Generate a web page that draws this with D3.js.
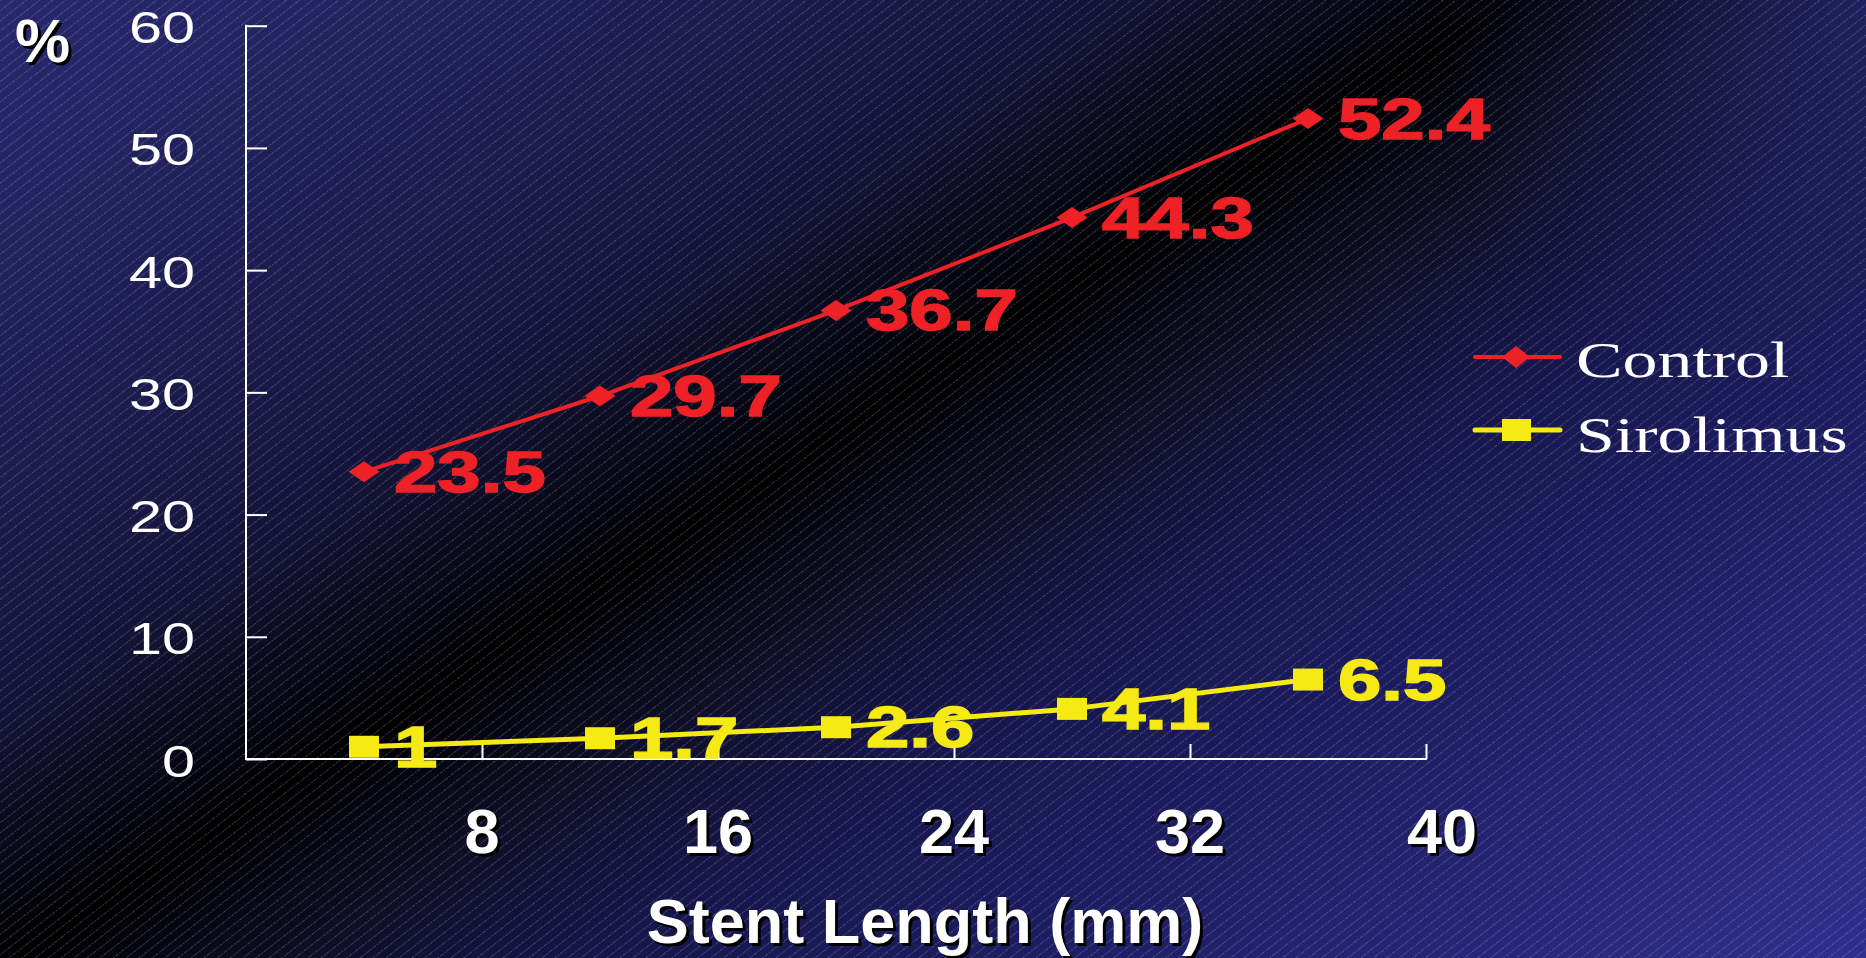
<!DOCTYPE html>
<html>
<head>
<meta charset="utf-8">
<script src="https://cdn.jsdelivr.net/npm/d3@7"></script>
<style>
  html, body { margin: 0; padding: 0; background: #000; overflow: hidden; }
  svg { display: block; }
</style>
</head>
<body>
<svg id="chart" width="1866" height="958"></svg>
<script>
// Restenosis rate by stent length bin (bin midpoints, mm)
const binCenters = [4, 12, 20, 28, 36];
const controlRates = [23.5, 29.7, 36.7, 44.3, 52.4];
const sirolimusRates = [1, 1.7, 2.6, 4.1, 6.5];
const lengthTicks = [8, 16, 24, 32, 40];
const percentTicks = [0, 10, 20, 30, 40, 50, 60];
const seriesNames = ["Control", "Sirolimus"];

const W = 1866, H = 958;
const plot = { left: 246, right: 1426, top: 25.7, bottom: 759 };
const SX = 1.38;               // horizontal stretch of the chart object text
const RED = "#ee2127", YELLOW = "#f5ea14";
const sansFont = "'Liberation Sans', Arial, Helvetica, sans-serif";
const serifFont = "'Liberation Serif', 'Times New Roman', serif";

const svg = d3.select("#chart");
const defs = svg.append("defs");

// Background: diagonal navy-black-blue gradient with fine slanted pinstripes
const grad = defs.append("linearGradient")
  .attr("id", "bg").attr("gradientUnits", "userSpaceOnUse")
  .attr("x1", 0).attr("y1", 0).attr("x2", 977).attr("y2", 1526);
[[0, "#28296e"], [0.2, "#1d1d52"], [0.33, "#141438"], [0.45, "#000000"],
 [0.53, "#0e0e24"], [0.62, "#16164a"], [0.72, "#1b1b5c"], [1, "#2e2f8c"]]
  .forEach(([o, c]) => grad.append("stop").attr("offset", o).attr("stop-color", c));

// soft navy glow in the upper-right corner
const glow = defs.append("radialGradient")
  .attr("id", "glow").attr("gradientUnits", "userSpaceOnUse")
  .attr("cx", 1866).attr("cy", 0).attr("r", 430);
glow.append("stop").attr("offset", 0).attr("stop-color", "#24246a").attr("stop-opacity", 0.8);
glow.append("stop").attr("offset", 1).attr("stop-color", "#1e1e58").attr("stop-opacity", 0);

const pat = defs.append("pattern")
  .attr("id", "stripes").attr("patternUnits", "userSpaceOnUse")
  .attr("width", 8).attr("height", 8)
  .attr("patternTransform", "rotate(52)");
pat.append("line")
  .attr("x1", 0.5).attr("y1", 0).attr("x2", 0.5).attr("y2", 8)
  .attr("stroke", "rgba(210,210,255,0.24)").attr("stroke-width", 1)
  .attr("stroke-dasharray", "2,1");

svg.append("rect").attr("width", W).attr("height", H).attr("fill", "url(#bg)");
svg.append("rect").attr("width", W).attr("height", H).attr("fill", "url(#glow)");
svg.append("rect").attr("width", W).attr("height", H).attr("fill", "url(#stripes)");

// Scales
const x = d3.scaleLinear().domain([0, 40]).range([plot.left, plot.right]);
const y = d3.scaleLinear().domain([0, 60]).range([plot.bottom, plot.top]);

// Stretched text helper (chart object text is horizontally widened)
function stretchedText(g, px, py, txt, opts) {
  const t = g.append("g").attr("transform", `translate(${px},${py}) scale(${opts.sx || 1},1)`)
    .append("text")
    .attr("x", 0).attr("y", 0)
    .attr("text-anchor", opts.anchor || "start")
    .attr("font-family", opts.family || sansFont)
    .attr("font-size", opts.size)
    .attr("font-weight", opts.weight || "normal")
    .attr("fill", opts.fill || "#fff")
    .text(txt);
  if (opts.stroke) t.attr("stroke", opts.fill).attr("stroke-width", opts.stroke);
  return t;
}

// Shadowed bold slide text
function shadowText(px, py, txt, size, anchor) {
  const g = svg.append("g");
  [[3, 3, "#000"], [0, 0, "#fff"]].forEach(([dx, dy, c]) => {
    g.append("text")
      .attr("x", px + dx).attr("y", py + dy)
      .attr("text-anchor", anchor)
      .attr("font-family", sansFont).attr("font-weight", "bold")
      .attr("font-size", size).attr("fill", c)
      .text(txt);
  });
}

// Axes
const axisG = svg.append("g");
const yAxis = d3.axisRight(y).tickValues(percentTicks).tickSize(21).tickFormat("");
axisG.append("g").attr("transform", `translate(${plot.left},0)`).call(yAxis)
  .call(g => g.select(".domain").remove())
  .call(g => g.selectAll("line").attr("stroke", "#fff").attr("stroke-width", 2));
const xAxis = d3.axisTop(x).tickValues(lengthTicks).tickSize(15).tickFormat("");
axisG.append("g").attr("transform", `translate(0,${plot.bottom})`).call(xAxis)
  .call(g => g.select(".domain").remove())
  .call(g => g.selectAll("line").attr("stroke", "#fff").attr("stroke-width", 2));
axisG.append("line")
  .attr("x1", plot.left).attr("x2", plot.left).attr("y1", y(60) - 1).attr("y2", y(0) + 1)
  .attr("stroke", "#fff").attr("stroke-width", 2);
axisG.append("line")
  .attr("x1", plot.left).attr("x2", x(40) + 1).attr("y1", y(0)).attr("y2", y(0))
  .attr("stroke", "#fff").attr("stroke-width", 2);

// Y tick labels
const yLab = svg.append("g");
percentTicks.forEach(v => {
  stretchedText(yLab, plot.left - 51, y(v) + 17.5, String(v),
    { sx: 1.35, size: 44, anchor: "end", fill: "#fff" });
});

// X tick labels (the closing label sits just past the axis end) and titles
lengthTicks.forEach((v, i) => {
  const nudge = i === lengthTicks.length - 1 ? 16 : 0;
  shadowText(x(v) + nudge, 853, String(v), 63, "middle");
});
shadowText((plot.left + plot.right) / 2 + 89, 943, "Stent Length (mm)", 63, "middle");
shadowText(15, 62, "%", 62, "start");

// Series
const series = [
  { name: seriesNames[0], values: controlRates, color: RED, width: 4, marker: "diamond" },
  { name: seriesNames[1], values: sirolimusRates, color: YELLOW, width: 5, marker: "square" }
];

const line = d3.line().x(d => x(d[0])).y(d => y(d[1]));
const diamond = (w, h) => `M0,${-h / 2}L${w / 2},0L0,${h / 2}L${-w / 2},0Z`;

series.forEach(s => {
  const pts = binCenters.map((c, i) => [c, s.values[i]]);
  const g = svg.append("g");
  g.append("path").datum(pts).attr("d", line)
    .attr("fill", "none").attr("stroke", s.color).attr("stroke-width", s.width)
    .attr("stroke-linejoin", "round");
  pts.forEach(p => {
    if (s.marker === "diamond") {
      g.append("path").attr("d", diamond(31, 21))
        .attr("transform", `translate(${x(p[0])},${y(p[1])})`).attr("fill", s.color);
    } else {
      g.append("rect").attr("x", x(p[0]) - 15).attr("y", y(p[1]) - 11)
        .attr("width", 30).attr("height", 22).attr("fill", s.color);
    }
  });
  // value labels
  pts.forEach(p => {
    stretchedText(g, x(p[0]) + 30, y(p[1]) + 20, String(p[1]),
      { sx: SX, size: 56.5, weight: "bold", fill: s.color, stroke: 1.4 });
  });
});

// Legend
const legend = svg.append("g");
const legendRows = [{ s: series[0], y: 357, textY: 377 }, { s: series[1], y: 430, textY: 452 }];
legendRows.forEach(r => {
  legend.append("line").attr("x1", 1475).attr("x2", 1560).attr("y1", r.y).attr("y2", r.y)
    .attr("stroke", r.s.color).attr("stroke-width", r.s.width).attr("stroke-linecap", "round");
  if (r.s.marker === "diamond") {
    legend.append("path").attr("d", diamond(28, 22))
      .attr("transform", `translate(1516,${r.y})`).attr("fill", r.s.color);
  } else {
    legend.append("rect").attr("x", 1502).attr("y", r.y - 11).attr("width", 29).attr("height", 22)
      .attr("fill", r.s.color);
  }
  stretchedText(legend, 1576, r.textY, r.s.name,
    { sx: 1.37, size: 51, family: serifFont, fill: "#fff" });
});
</script>
</body>
</html>
